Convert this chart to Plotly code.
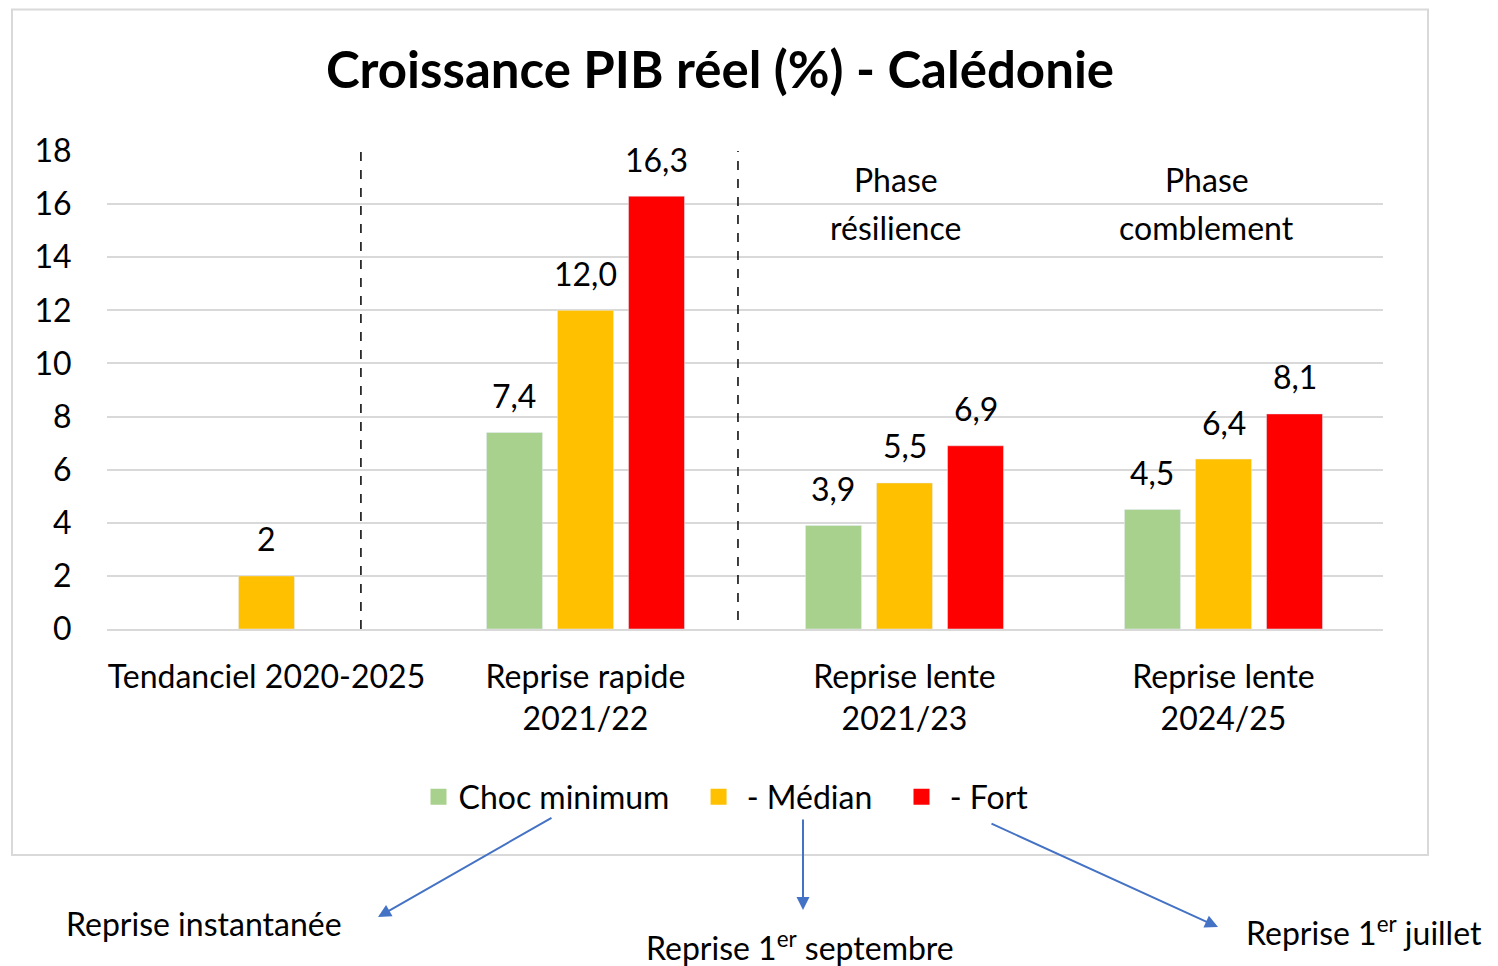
import plotly.graph_objects as go

# ---------------- data ----------------
categories = ["Tendanciel 2020-2025", "Reprise rapide<br>2021/22",
              "Reprise lente<br>2021/23", "Reprise lente<br>2024/25"]
choc_minimum = [None, 7.4, 3.9, 4.5]
median = [2, 12.0, 5.5, 6.4]
fort = [None, 16.3, 6.9, 8.1]
series_names = ["Choc minimum", "- Médian", "- Fort"]
y_ticks = [0, 2, 4, 6, 8, 10, 12, 14, 16, 18]

# ---------------- style ----------------
FONT = "Lato"
FS = 32
colors = ["#A9D18E", "#FFC000", "#FF0000"]
# legend label padding (leading / trailing spaces) to mimic the original spacing
legend_pad = [("", "\u2002\u00a0"), ("\u00a0", "\u2002\u00a0"), ("\u00a0", "")]
OFF = 8                      # page body margin
W, H = 1498 - OFF, 966 - OFF
# plot area in page pixels: x 107..1383, y 151..629
L, T = 107 - OFF, 151 - OFF
PW, PH = 1383 - 107, 629 - 151
R, B = W - L - PW, H - T - PH

def px(x):  # page pixel x -> paper x
    return (x - 107) / PW

def py(y):  # page pixel y -> paper y
    return (629 - y) / PH

def fmt(v):
    if isinstance(v, int):
        return str(v)
    return f"{v:.1f}".replace(".", ",")

xpos = list(range(len(categories)))
bar_w = 0.1755
shift = 0.2226
series = [choc_minimum, median, fort]

fig = go.Figure()
annotations = []
for k, (vals, name, col) in enumerate(zip(series, series_names, colors)):
    off = (k - 1) * shift
    fig.add_trace(go.Bar(
        x=xpos, y=vals, name=name, marker_color=col,
        width=bar_w, offset=off - bar_w / 2,
        hoverinfo="skip", showlegend=False,
    ))
    # legend entry with a larger square swatch
    pre, post = legend_pad[k]
    fig.add_trace(go.Scatter(
        x=[None], y=[None], mode="markers", name=pre + name + post,
        marker=dict(symbol="square", size=20, color=col),
        showlegend=True,
    ))
    for xi, v in zip(xpos, vals):
        if v is None:
            continue
        annotations.append(dict(
            x=xi + off, y=v, xref="x", yref="y", text=fmt(v),
            showarrow=False, yanchor="middle", yshift=37,
            font=dict(family=FONT, size=FS, color="black")))

# phase labels (two lines each)
for xx, l1, l2 in [(1.973, "Phase", "résilience"), (2.948, "Phase", "comblement")]:
    for txt, yy in [(l1, 179), (l2, 228)]:
        annotations.append(dict(x=xx, y=py(yy), xref="x", yref="paper", text=txt,
                                showarrow=False, yanchor="middle",
                                font=dict(family=FONT, size=FS, color="black")))

# texts below the chart
for cx, cy, txt in [(204, 923, "Reprise instantanée"),
                    (800, 946, "Reprise 1<sup>er</sup> septembre"),
                    (1364, 931, "Reprise 1<sup>er</sup> juillet")]:
    annotations.append(dict(x=px(cx), y=py(cy), xref="paper", yref="paper",
                            text=txt, showarrow=False, yanchor="middle",
                            xanchor="center",
                            font=dict(family=FONT, size=FS, color="black")))

# arrows (head, tail in page pixels)
for (hx, hy), (tx, ty) in [((378, 917), (553, 817)),
                           ((803, 910), (803, 818)),
                           ((1218, 927), (990, 823))]:
    annotations.append(dict(x=px(hx), y=py(hy), xref="paper", yref="paper",
                            ax=tx - hx, ay=ty - hy, axref="pixel", ayref="pixel",
                            text="", showarrow=True, arrowhead=2, arrowsize=1.3,
                            arrowwidth=2, arrowcolor="#4472C4"))

shapes = [
    dict(type="rect", xref="paper", yref="paper",
         x0=px(12), x1=px(1428), y0=py(855), y1=py(9.5),
         line=dict(color="#D9D9D9", width=2), layer="below"),
    dict(type="line", xref="x", yref="y", x0=0.296, x1=0.296, y0=0, y1=18,
         line=dict(color="black", width=1.5, dash="dash")),
    dict(type="line", xref="x", yref="y", x0=1.478, x1=1.478, y0=0.34, y1=18.15,
         line=dict(color="black", width=1.5, dash="dash")),
]

fig.update_layout(
    width=W, height=H,
    margin=dict(l=L, r=R, t=T, b=B, autoexpand=False),
    paper_bgcolor="white", plot_bgcolor="white",
    font=dict(family=FONT, size=FS, color="black"),
    title=dict(text="<b>Croissance PIB réel (%) - Calédonie</b>",
               x=(720 - OFF) / W, xref="container", xanchor="center",
               y=1 - (70 - OFF) / H, yref="container", yanchor="middle",
               font=dict(family=FONT, size=51, color="black")),
    barmode="overlay",
    showlegend=True,
    legend=dict(orientation="h", x=px(726), xanchor="center",
                y=py(797), yanchor="middle", itemsizing="trace",
                font=dict(family=FONT, size=FS, color="black"),
                itemclick=False, itemdoubleclick=False),
    annotations=annotations,
    shapes=shapes,
)
fig.update_xaxes(range=[-0.5, 3.5], tickvals=xpos, ticktext=categories,
                 showgrid=False, zeroline=False, showline=True,
                 linecolor="#D9D9D9", linewidth=2,
                 ticks="outside", ticklen=0, ticklabelstandoff=19,
                 tickfont=dict(family=FONT, size=FS, color="black"))
fig.update_yaxes(range=[0, 18], tickvals=y_ticks,
                 showgrid=True, gridcolor="#D9D9D9", gridwidth=2,
                 zeroline=False, showline=False,
                 ticks="outside", ticklen=0, ticklabelstandoff=28,
                 tickfont=dict(family=FONT, size=FS, color="black"))

fig.write_html("out.html")
